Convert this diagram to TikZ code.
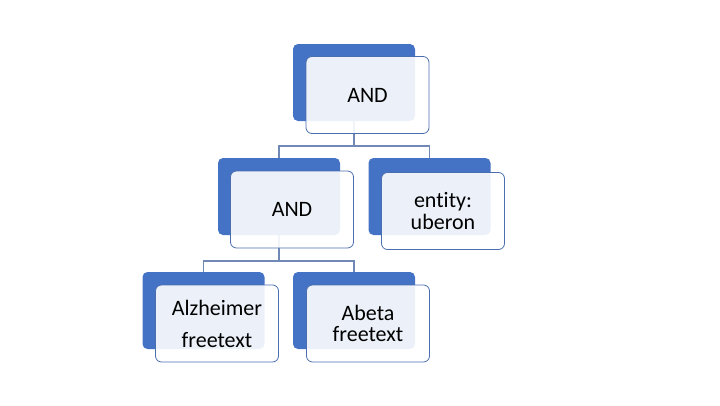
\documentclass[tikz,border=0pt]{standalone}
\usepackage{fontspec}
\setmainfont{Carlito}[Ligatures={NoCommon}]
\definecolor{boxblue}{HTML}{4472C4}
\definecolor{edgeblue}{HTML}{4A6EB0}
\definecolor{linkblue}{HTML}{6F88B5}
\begin{document}
\begin{tikzpicture}[x=1pt,y=-1pt,
  backbox/.style={draw=none,fill=boxblue,rounded corners=5pt,minimum width=122pt,minimum height=77pt,inner sep=0pt},
  frontbox/.style={draw=edgeblue,line width=0.8pt,fill=white,fill opacity=0.9,text opacity=1,rounded corners=6pt,minimum width=123pt,minimum height=77pt,inner sep=0pt,align=center,font=\fontsize{22}{24}\selectfont},
  link/.style={draw=linkblue,line width=1.1pt}]
\useasboundingbox (0,0) rectangle (720,405);
% back boxes
\node[backbox] (b0) at (354,82.5) {};
\node[backbox] (b1) at (279,196.5) {};
\node[backbox] (b2) at (429.5,196.5) {};
\node[backbox] (b3) at (203.5,310.5) {};
\node[backbox] (b4) at (354,310.5) {};
% connectors
\coordinate (j0) at (354,146);
\coordinate (j1) at (279,261);
\draw[link] (b0.south) -- (j0) -| (b1.north);
\draw[link] (j0) -| (b2.north);
\draw[link] (b1.south) -- (j1) -| (b3.north);
\draw[link] (j1) -| (b4.north);
% front boxes
\node[frontbox] (f0) at (367.5,95) {AND};
\node[frontbox] (f1) at (292,209.5) {AND};
\node[frontbox] (f2) at (443,211) {entity:\\[-2pt]uberon};
\node[frontbox] (f3) at (217,323.5) {Alzheimer\\[8pt]freetext};
\node[frontbox] (f4) at (368,323.5) {Abeta\\[-3pt]freetext};
\end{tikzpicture}
\end{document}
